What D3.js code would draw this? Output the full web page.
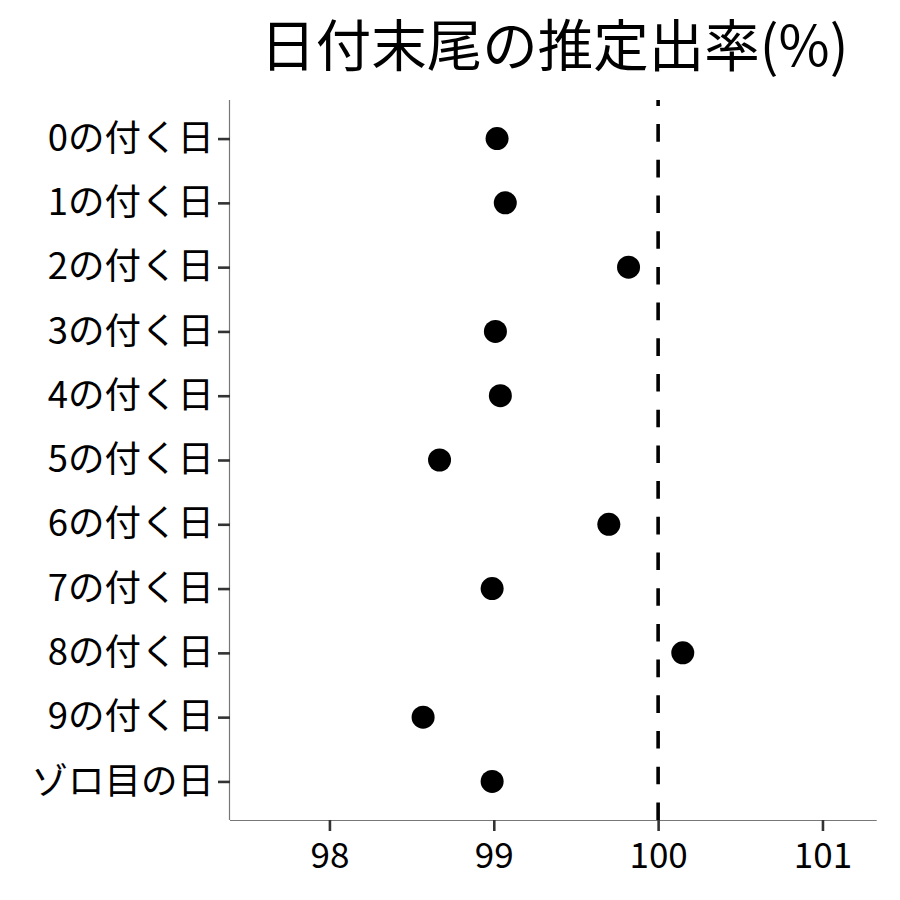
<!DOCTYPE html>
<html><head><meta charset="utf-8">
<script src="https://cdn.jsdelivr.net/npm/d3@7"></script>
<style>body{margin:0;background:#fff;} svg{display:block;}</style>
</head><body>
<script>
const title = "日付末尾の推定出率(%)";
const categories = ["0の付く日","1の付く日","2の付く日","3の付く日","4の付く日","5の付く日","6の付く日","7の付く日","8の付く日","9の付く日","ゾロ目の日"];
const values = [99.02, 99.07, 99.82, 99.01, 99.04, 98.67, 99.70, 98.99, 100.15, 98.57, 98.99];
const xTicks = [98, 99, 100, 101];
const refValue = 100;

const W = 900, H = 900;
const m = {left: 230, right: 876.7, top: 100, bottom: 820};
const font = "'Noto Sans CJK JP', 'Noto Sans', sans-serif";

const svg = d3.select("body").append("svg").attr("width", W).attr("height", H)
  .style("font-family", font);

const x = d3.scaleLinear().domain([97.395, 101.33]).range([m.left, m.right]);
const y = d3.scalePoint().domain(categories).range([m.top, m.bottom]).padding(0.6);

// reference line (drawn from bottom upward)
svg.append("line")
  .attr("x1", x(refValue)).attr("x2", x(refValue))
  .attr("y1", m.bottom).attr("y2", m.top)
  .attr("stroke", "#000").attr("stroke-width", 3.6)
  .attr("stroke-dasharray", "17.6,18.1");

// points
svg.append("g").selectAll("circle").data(categories).join("circle")
  .attr("cx", (d, i) => x(values[i]))
  .attr("cy", d => y(d))
  .attr("r", 11.5)
  .attr("fill", "#000");

// x axis
const xAxis = svg.append("g").attr("transform", `translate(0,${m.bottom})`)
  .call(d3.axisBottom(x).tickValues(xTicks).tickSize(11).tickPadding(12).tickFormat(d3.format("d")));
xAxis.select(".domain").attr("stroke", "#777").attr("stroke-width", 1.2).attr("d", `M${m.left},0.5H${m.right}`);
xAxis.selectAll(".tick line").attr("stroke", "#333").attr("stroke-width", 2.6);
xAxis.selectAll(".tick text").attr("fill", "#000").style("font-size", "35px").style("font-family", font);

// y axis
const yAxis = svg.append("g").attr("transform", `translate(${m.left},0)`)
  .call(d3.axisLeft(y).tickSize(12).tickPadding(4));
yAxis.select(".domain").attr("stroke", "#777").attr("stroke-width", 1.2).attr("d", `M-0.5,${m.top}V${m.bottom}`);
yAxis.selectAll(".tick line").attr("stroke", "#333").attr("stroke-width", 2.6);
yAxis.selectAll(".tick text").attr("fill", "#000").style("font-size", "36.5px").style("font-family", font);

// title
svg.append("text")
  .attr("x", (m.left + m.right) / 2 + 1).attr("y", 66)
  .attr("text-anchor", "middle")
  .style("font-size", "55.5px")
  .attr("fill", "#000")
  .text(title);
</script>
</body></html>
